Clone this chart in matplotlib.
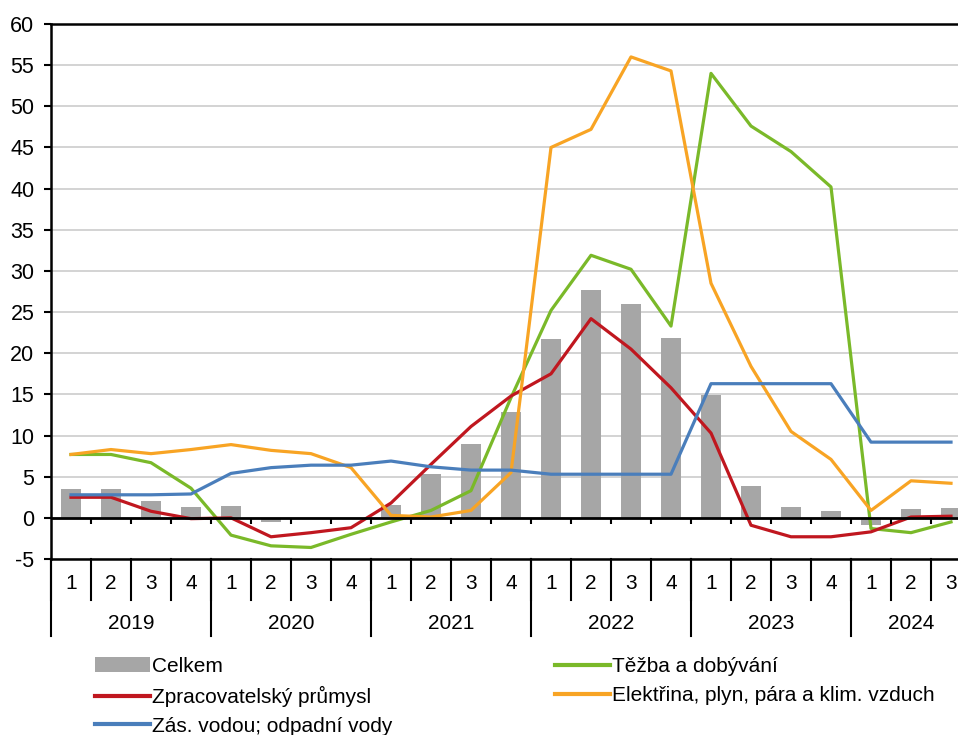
import numpy as np
import matplotlib.pyplot as plt
from matplotlib.lines import Line2D
from matplotlib.patches import Patch

plt.rcParams["font.family"] = ["Liberation Sans", "DejaVu Sans"]
plt.rcParams["axes.unicode_minus"] = False

years = ["2019", "2020", "2021", "2022", "2023", "2024"]
quarters = ["1", "2", "3", "4"] * 5 + ["1", "2", "3"]

celkem = [3.5, 3.5, 2.0, 1.3, 1.4, -0.5, -0.2, 0.0,
          1.5, 5.3, 9.0, 12.8, 21.7, 27.7, 26.0, 21.8,
          14.9, 3.9, 1.3, 0.8, -0.9, 1.1, 1.2]
tezba = [7.7, 7.7, 6.7, 3.6, -2.1, -3.4, -3.6, -2.0,
         -0.5, 0.9, 3.3, 14.6, 25.2, 31.9, 30.2, 23.3,
         54.0, 47.6, 44.5, 40.2, -1.3, -1.8, -0.5]
zprac = [2.5, 2.5, 0.8, -0.1, 0.0, -2.3, -1.8, -1.2,
         1.8, 6.5, 11.1, 14.8, 17.5, 24.2, 20.5, 15.8,
         10.3, -0.9, -2.3, -2.3, -1.7, 0.1, 0.2]
elektrina = [7.7, 8.3, 7.8, 8.3, 8.9, 8.2, 7.8, 6.1,
             0.3, 0.1, 0.9, 5.5, 45.0, 47.2, 56.0, 54.3,
             28.5, 18.4, 10.5, 7.1, 0.9, 4.5, 4.2]
voda = [2.8, 2.8, 2.8, 2.9, 5.4, 6.1, 6.4, 6.4,
        6.9, 6.2, 5.8, 5.8, 5.3, 5.3, 5.3, 5.3,
        16.3, 16.3, 16.3, 16.3, 9.2, 9.2, 9.2]

c_bar = "#a6a6a6"
c_green = "#7ab929"
c_red = "#c0171f"
c_orange = "#f8a424"
c_blue = "#4a7ebb"

x = np.arange(len(celkem))
fs = 15

fig = plt.figure(figsize=(9.58, 7.35), dpi=100)
ax = fig.add_axes([51 / 958, 1 - 559 / 735, 920 / 958, 535 / 735])

ax.bar(x, celkem, width=0.5, color=c_bar, zorder=2)
ax.plot(x, tezba, color=c_green, lw=2.3, zorder=3)
ax.plot(x, zprac, color=c_red, lw=2.3, zorder=4)
ax.plot(x, elektrina, color=c_orange, lw=2.3, zorder=5)
ax.plot(x, voda, color=c_blue, lw=2.3, zorder=6)

ax.set_xlim(-0.5, len(x) - 0.5)
ax.set_ylim(-5, 60)
ax.set_yticks(np.arange(-5, 61, 5))
ax.yaxis.grid(True, color="#d0d0d0", lw=1.3, zorder=0)
ax.tick_params(axis="y", direction="out", length=5, width=1.5,
               labelsize=15.5, pad=7)
ax.axhline(0, color="black", lw=2, zorder=7)

for s in ax.spines.values():
    s.set_color("black")
    s.set_linewidth(1.8)

# small ticks on the zero line
bounds = np.arange(-0.5, len(x), 1.0)
ax.vlines(bounds[1:-1], -0.8, 0, color="black", lw=1.5, zorder=7)

# category axis: quarters and years
ax.set_xticks([])
tr = ax.get_xaxis_transform()
for b in bounds:
    ax.plot([b, b], [0, -0.077], color="black", lw=1.5,
            transform=tr, clip_on=False)
for b in [-0.5, 3.5, 7.5, 11.5, 15.5, 19.5, 22.5]:
    ax.plot([b, b], [0, -0.144], color="black", lw=1.5,
            transform=tr, clip_on=False)
for xi, q in zip(x, quarters):
    ax.text(xi, -0.045, q, transform=tr, ha="center", va="center",
            fontsize=fs)
year_pos = [1.5, 5.5, 9.5, 13.5, 17.5, 21.0]
for xp, yr in zip(year_pos, years):
    ax.text(xp, -0.12, yr, transform=tr, ha="center", va="center",
            fontsize=fs)

handles = [
    Patch(facecolor=c_bar, edgecolor="none"),
    Line2D([], [], color=c_red, lw=3),
    Line2D([], [], color=c_blue, lw=3),
    Line2D([], [], color=c_green, lw=3),
    Line2D([], [], color=c_orange, lw=3),
]
labels = ["Celkem", "Zpracovatelský průmysl", "Zás. vodou; odpadní vody",
          "Těžba a dobývání", "Elektřina, plyn, pára a klim. vzduch"]
fig.legend(handles, labels, ncol=2, loc="upper left",
           bbox_to_anchor=(95 / 958, 1 - 657 / 735),
           frameon=False, fontsize=fs, handlelength=2.64,
           handleheight=0.7, handletextpad=0.1, columnspacing=7.8,
           labelspacing=0.47, borderpad=0, borderaxespad=0)

fig.savefig("out.png", dpi=100)
